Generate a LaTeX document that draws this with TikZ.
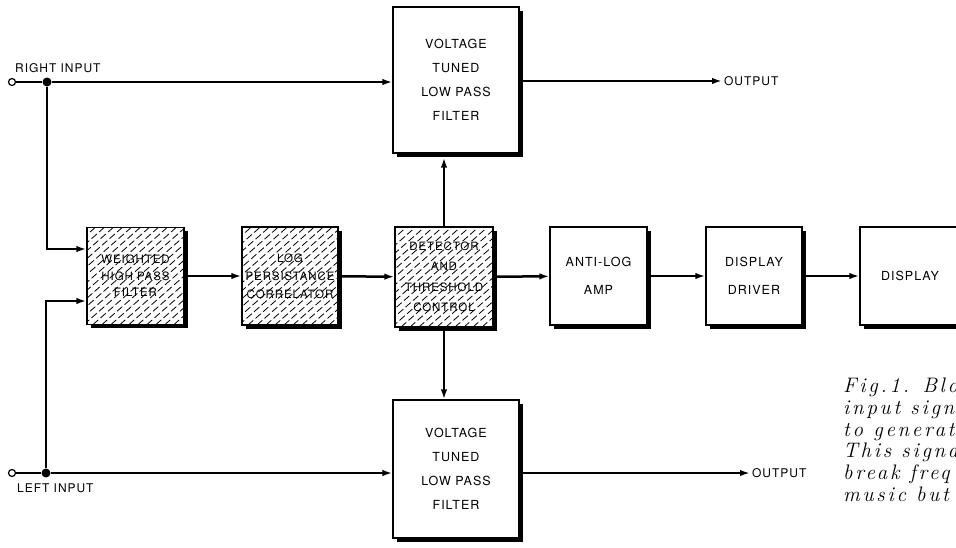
\documentclass[tikz,border=0pt]{standalone}
\usepackage{fontspec}
\newfontfamily\lblfont[LetterSpace=8]{TeX Gyre Heros}
\newfontfamily\capfont[LetterSpace=13]{Latin Modern Roman}
\usetikzlibrary{arrows.meta,calc,shadows}
\tikzset{
  blk/.style ={draw,line width=1.2pt,fill=white,inner sep=0pt,align=center,
               drop shadow={shadow xshift=3.5pt,shadow yshift=-3.5pt,fill=black,opacity=1}},
  hblk/.style={blk,path picture={
                 \foreach \k in {-120,-111,...,110}
                   \draw[line width=0.8pt,dash pattern=on 7pt off 3pt]
                     ($(path picture bounding box.south west)+(\k,0)$) -- ++(125,-110);}},
  lh/.style  ={font=\lblfont\fontsize{12.5}{#1}\selectfont},
  hlh/.style ={font=\lblfont\fontsize{11.5}{#1}\selectfont},
  wire/.style={line width=2.5pt},
  ar/.style  ={wire,-{Latex[length=10pt,width=6.5pt]}},
  dot/.style ={circle,fill=black,inner sep=0pt,minimum size=9pt},
  odot/.style={circle,draw,fill=white,line width=1.2pt,inner sep=0pt,minimum size=7pt},
  tag/.style ={font=\lblfont\fontsize{12}{14}\selectfont,inner sep=0pt},
}
\begin{document}
\begin{tikzpicture}[x=1pt,y=-1pt]
  \useasboundingbox (0,0) rectangle (956,547);
  \clip (0,0) rectangle (956,547);
  % low pass filters
  \node[blk,lh=24,minimum width=126pt,minimum height=146pt] (lpfR) at (456,80)
    {VOLTAGE\\TUNED\\LOW PASS\\FILTER};
  \node[blk,lh=24,minimum width=126pt,minimum height=138pt] (lpfL) at (456,469)
    {VOLTAGE\\TUNED\\LOW PASS\\FILTER};
  % centre row
  \node[hblk,hlh=16.5,minimum width=97pt,minimum height=97pt] (hpf) at (135.5,276)
    {WEIGHTED\\HIGH PASS\\FILTER};
  \node[hblk,hlh=18,minimum width=96pt,minimum height=98pt] (corr) at (290,276)
    {LOG\\PERSISTANCE\\CORRELATOR};
  \node[hblk,hlh=20.5,minimum width=98pt,minimum height=100pt] (det) at (444,277)
    {DETECTOR\\AND\\THRESHOLD\\CONTROL};
  \node[blk,lh=28,minimum width=97pt,minimum height=98pt] (alog) at (598.5,276)
    {ANTI-LOG\\AMP};
  \node[blk,lh=28,minimum width=96pt,minimum height=98pt] (drv) at (754,276)
    {DISPLAY\\DRIVER};
  \node[blk,lh=28,minimum width=100pt,minimum height=98pt] (disp) at (910,276)
    {DISPLAY};
  % inputs and outputs
  \node[odot] (rin) at (12,82) {};
  \node[dot] (rj) at (47,82) {};
  \node[tag,anchor=west] (rlbl) at (15,68) {RIGHT INPUT};
  \node[odot] (lin) at (12,473) {};
  \node[dot] (lj) at (46,473) {};
  \node[tag,anchor=west] (llbl) at (17,488) {LEFT INPUT};
  \node[tag,anchor=west] (outR) at (724,81) {OUTPUT};
  \node[tag,anchor=west] (outL) at (752,473) {OUTPUT};

  \draw[wire] (rin) -- (rj);
  \draw[ar] (rj) -- (rj -| lpfR.west);
  \draw[ar] (rj) |- ($(hpf.west)+(0,-27)$);
  \draw[wire] (lin) -- (lj);
  \draw[ar] (lj) -- (lj -| lpfL.west);
  \draw[ar] (lj) |- ($(hpf.west)+(0,25)$);

  \draw[ar] (hpf) -- (corr);
  \draw[ar] (corr) -- (det);
  \draw[ar] (det) -- (alog);
  \draw[ar] (alog) -- (drv);
  \draw[ar] (drv) -- (disp);
  \draw[ar] (det.north) -- ($(det.north |- lpfR.south)+(0,4)$);
  \draw[ar] (det.south) -- (det.south |- lpfL.north);

  \draw[ar,shorten >=2pt] (lpfR.east |- outR.west) -- (outR.west);
  \draw[ar,shorten >=2pt] (lpfL.east |- outL.west) -- (outL.west);

  % caption, cut by the page edge
  \node[anchor=north west,align=left,inner sep=0pt,
        font=\capfont\itshape\fontsize{21}{21.7}\selectfont] (cap) at (843,378)
    {Fig.1. Blo\\input sign\\to generat\\This signa\\break freq\\music but};
\end{tikzpicture}
\end{document}
